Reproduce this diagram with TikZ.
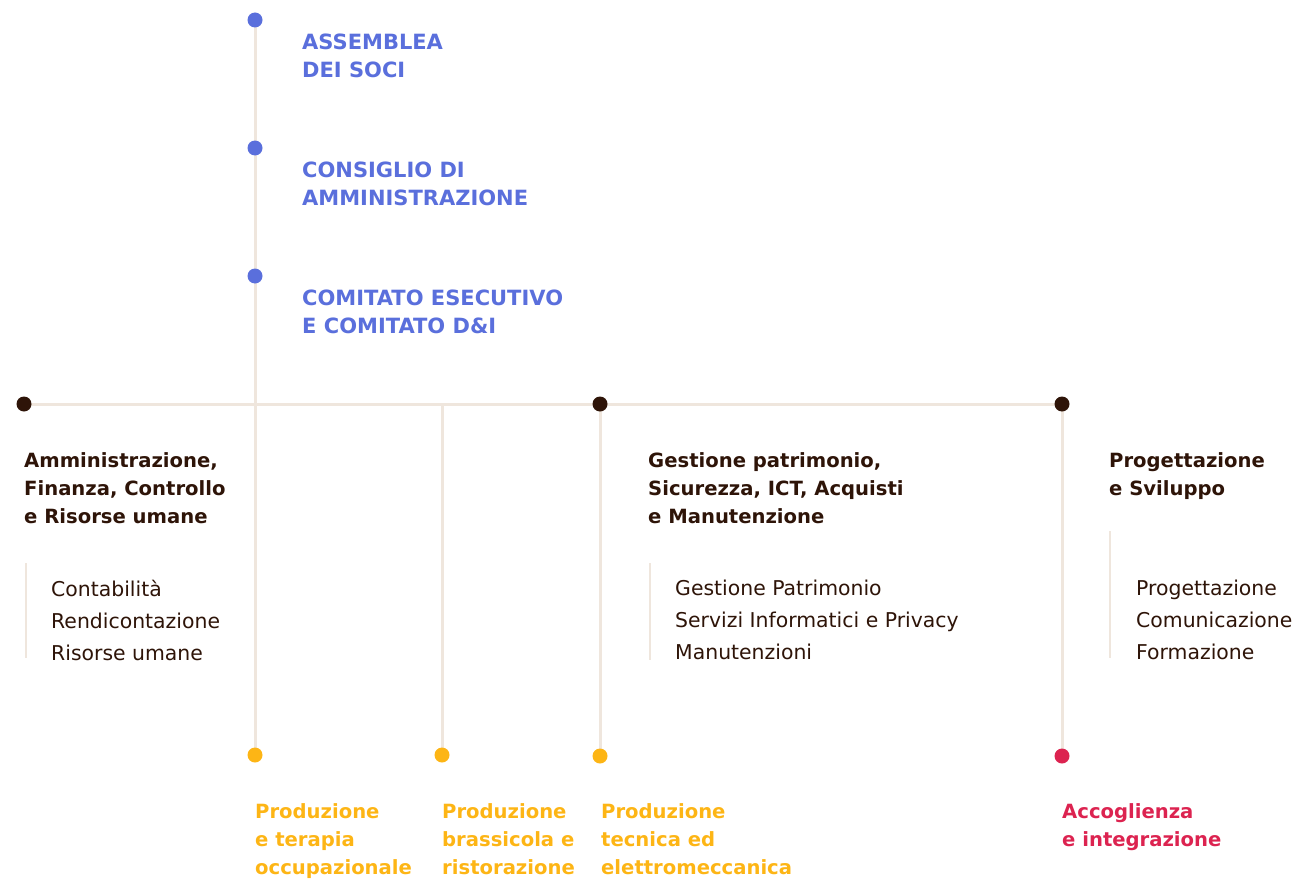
\documentclass[tikz,border=0pt]{standalone}
\usepackage{fontspec}
\setmainfont{DejaVu Sans}
\usetikzlibrary{backgrounds}
\definecolor{cblue}{HTML}{5A6FDC}
\definecolor{cyel}{HTML}{FDB515}
\definecolor{cred}{HTML}{DC2350}
\definecolor{cdark}{HTML}{2E1408}
\definecolor{cline}{HTML}{EFE6DD}
\tikzset{
  dot/.style={circle,inner sep=0pt,minimum size=15pt,fill=#1},
  conn/.style={draw=cline,line width=3pt},
  bar/.style={draw=cline,line width=2pt},
  head/.style={anchor=north west,inner sep=0pt,align=left,text=#1,font=\fontsize{19.6}{28}\selectfont\bfseries},
  govhead/.style={anchor=north west,inner sep=0pt,align=left,text=cblue,font=\fontsize{21}{28}\selectfont\bfseries},
  items/.style={anchor=north west,inner sep=0pt,align=left,text=cdark,font=\fontsize{20.4}{32}\selectfont},
}
\begin{document}
\begin{tikzpicture}[x=1pt,y=-1pt]
\useasboundingbox (0,0) rectangle (1300,880);
% dots
\node[dot=cblue] (b1) at (255,20) {};
\node[dot=cblue] (b2) at (255,148) {};
\node[dot=cblue] (b3) at (255,276) {};
\node[dot=cdark] (d1) at (24,404) {};
\node[dot=cdark] (d2) at (600,404) {};
\node[dot=cdark] (d3) at (1062,404) {};
\coordinate (j1) at (255,404);
\coordinate (j2) at (442,404);
\node[dot=cyel] (y1) at (255,755) {};
\node[dot=cyel] (y2) at (442,755) {};
\node[dot=cyel] (y3) at (600,756) {};
\node[dot=cred] (r1) at (1062,756) {};
% connectors
\begin{scope}[on background layer]
\draw[conn] (b1.center) -- (y1.center);
\draw[conn] (d1.center) -- (d3.center);
\draw[conn] (j2) -- (y2.center);
\draw[conn] (d2.center) -- (y3.center);
\draw[conn] (d3.center) -- (r1.center);
\end{scope}
% blue headings
\node[govhead] (t1) at (302,34) {ASSEMBLEA\\DEI SOCI};
\node[govhead] (t2) at (302,162) {CONSIGLIO DI\\AMMINISTRAZIONE};
\node[govhead] (t3) at (302,290) {COMITATO ESECUTIVO\\E COMITATO D\&I};
% departments
\node[head=cdark] (a1) at (24,452) {Amministrazione,\\Finanza, Controllo\\e Risorse umane};
\node[head=cdark] (a2) at (648,452) {Gestione patrimonio,\\Sicurezza, ICT, Acquisti\\e Manutenzione};
\node[head=cdark] (a3) at (1109,452) {Progettazione\\e Sviluppo};
\draw[bar] (26,563) -- (26,658);
\draw[bar] (650,563) -- (650,660);
\draw[bar] (1110,531) -- (1110,658);
\node[items] (i1) at (51,580) {Contabilità\\Rendicontazione\\Risorse umane};
\node[items] (i2) at (675,580) {Gestione Patrimonio\\Servizi Informatici e Privacy\\Manutenzioni};
\node[items] (i3) at (1136,580) {Progettazione\\Comunicazione\\Formazione};
% bottom
\node[head=cyel] (p1) at (255,803) {Produzione\\e terapia\\occupazionale};
\node[head=cyel] (p2) at (442,803) {Produzione\\brassicola e\\ristorazione};
\node[head=cyel] (p3) at (601,803) {Produzione\\tecnica ed\\elettromeccanica};
\node[head=cred] (p4) at (1062,803) {Accoglienza\\e integrazione};
\end{tikzpicture}
\end{document}
